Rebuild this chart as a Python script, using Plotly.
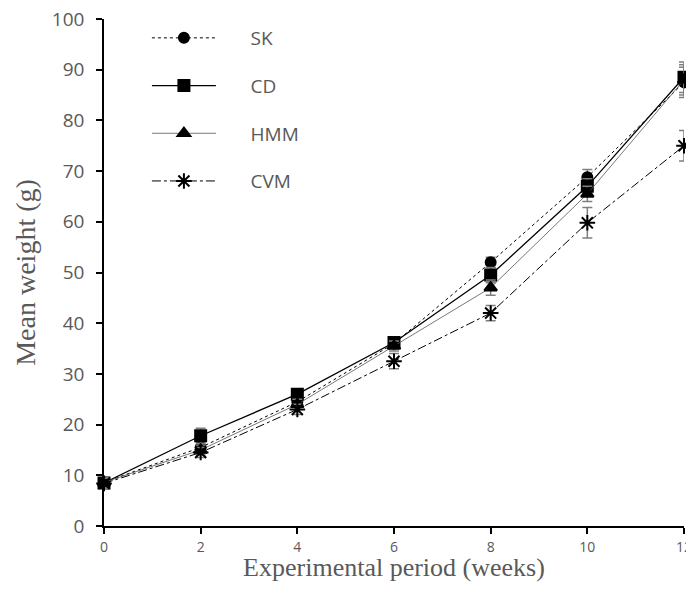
import plotly.graph_objects as go

weeks = [0, 2, 4, 6, 8, 10, 12]
sk = [8.6, 15.5, 24.5, 36.0, 52.0, 68.8, 87.5]
cd = [8.5, 17.8, 26.0, 36.2, 49.5, 67.0, 88.5]
hmm = [8.6, 15.0, 24.0, 35.5, 47.0, 65.5, 88.0]
cvm = [8.4, 14.5, 23.0, 32.5, 42.0, 59.8, 75.0]
sk_err = [1.0, 1.0, 1.0, 1.0, 1.0, 1.5, 3.0]
cd_err = [1.0, 1.5, 1.0, 1.0, 1.5, 1.5, 3.0]
hmm_err = [1.0, 1.0, 1.0, 1.0, 1.5, 1.5, 3.0]
cvm_err = [1.0, 1.0, 1.0, 1.5, 1.5, 3.0, 3.0]

series = [
    ("SK", sk, sk_err, "dot", "circle", 10, 1.0, "black"),
    ("CD", cd, cd_err, "solid", "square", 11, 1.3, "black"),
    ("HMM", hmm, hmm_err, "solid", "triangle-up", 11, 0.8, "#555555"),
    ("CVM", cvm, cvm_err, "dashdot", "asterisk-open", 13, 1.0, "black"),
]

pad = "\u00a0" * 6
fig = go.Figure()
for name, vals, errs, dash, sym, size, lw, lc in series:
    fig.add_trace(go.Scatter(
        x=weeks, y=vals, name=pad + name, mode="lines+markers",
        legendgroup=name,
        line=dict(color=lc, width=lw, dash=dash),
        marker=dict(symbol=sym, size=size, color="black",
                    line=dict(color="black", width=2)),
        error_y=dict(type="data", array=errs, visible=True,
                     color="#7f7f7f", thickness=1.5, width=5),
        cliponaxis=False,
    ))

# the page adds an 8px body margin, so the figure is sized and offset to compensate
fig.update_layout(
    width=686, height=574,
    paper_bgcolor="white", plot_bgcolor="white",
    margin=dict(l=96, r=10, t=11, b=56),
    showlegend=True,
    legend=dict(x=0.074, y=1.0, xanchor="left", yanchor="top",
                bgcolor="rgba(0,0,0,0)", tracegroupgap=20,
                font=dict(family="Open Sans", size=19, color="#595959"),
                itemwidth=64),
    xaxis=dict(range=[0, 12], tickvals=weeks, ticktext=[str(w) for w in weeks],
               showgrid=False, zeroline=False, showline=True, automargin=False,
               linecolor="black", linewidth=1.5,
               ticks="outside", ticklen=6, tickcolor="black", tickwidth=1.5,
               ticklabelstandoff=1, ticklabeloverflow="allow",
               tickfont=dict(family="Open Sans", size=14, color="#595959"),
               title=dict(text="Experimental period (weeks)", standoff=6,
                          font=dict(family="Liberation Serif", size=26, color="#595959"))),
    yaxis=dict(range=[0, 100], dtick=10,
               showgrid=False, zeroline=False, showline=True, automargin=False,
               linecolor="black", linewidth=1.5,
               ticks="outside", ticklen=6, tickcolor="black", tickwidth=1.5,
               ticklabelstandoff=8, ticklabeloverflow="allow",
               tickfont=dict(family="Open Sans", size=19, color="#595959"),
               title=dict(text="Mean weight (g)", standoff=8,
                          font=dict(family="Liberation Serif", size=28, color="#595959"))),
)

fig.write_html("out.html")
